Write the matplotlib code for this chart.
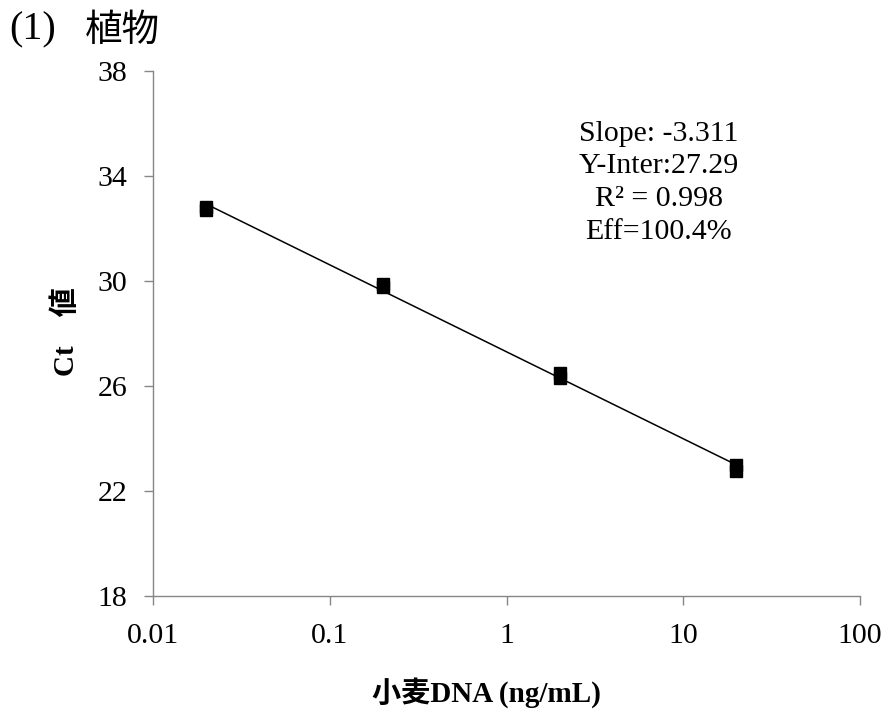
import numpy as np
import matplotlib.pyplot as plt

plt.rcParams['font.family'] = ['Liberation Serif', 'Noto Sans CJK JP']
plt.rcParams['mathtext.fontset'] = 'stix'

# DNA concentration (ng/mL) and Ct replicates
conc = [0.02, 0.02, 0.2, 0.2, 2, 2, 20, 20]
ct = [32.72, 32.82, 29.76, 29.87, 26.29, 26.51, 22.75, 22.98]

x_ticks = [0.01, 0.1, 1, 10, 100]
x_tick_labels = ['0.01', '0.1', '1', '10', '100']
y_ticks = [18, 22, 26, 30, 34, 38]

stats_text = 'Slope: -3.311\nY-Inter:27.29\nR² = 0.998\nEff=100.4%'

fig = plt.figure(figsize=(8.86, 7.18), dpi=100)
ax = fig.add_axes([0.1727, 0.1699, 0.7980, 0.7312])

# linear fit of Ct vs log10(conc)
logc = np.log10(conc)
slope, inter = np.polyfit(logc, ct, 1)
xs = np.array([min(conc), max(conc)])
ax.plot(xs, slope * np.log10(xs) + inter, color='black', lw=1.1, zorder=2)
ax.plot(conc, ct, 's', color='black', ms=8.6, zorder=3)

ax.set_xscale('log')
ax.set_xlim(0.01, 100)
ax.set_ylim(18, 38)
ax.set_xticks(x_ticks)
ax.set_xticklabels(x_tick_labels)
ax.set_yticks(y_ticks)
ax.minorticks_off()

for side in ['top', 'right']:
    ax.spines[side].set_visible(False)
for side in ['left', 'bottom']:
    ax.spines[side].set_color('#868686')
    ax.spines[side].set_linewidth(1.0)
ax.tick_params(axis='both', direction='out', length=6.5, width=1.0,
               color='#868686', labelsize=21.5)
ax.tick_params(axis='y', pad=12)
ax.tick_params(axis='x', pad=13)

ax.text(0.715, 0.905, stats_text, transform=ax.transAxes, ha='center',
        va='top', fontsize=21.5, linespacing=1.33)

fig.text(0.549, 0.035, '小麦DNA (ng/mL)', ha='center', va='center',
         fontsize=21, fontweight='bold')
fig.text(0.0745, 0.5376, 'Ct\u3000値', ha='center', va='center', rotation=90,
         fontsize=21, fontweight='bold')

fig.text(0.010, 0.958, '(1)', ha='left', va='center', fontsize=29)
fig.text(0.096, 0.958, '植物', ha='left', va='center', fontsize=27,
         family=['Noto Sans CJK JP'])

fig.savefig('out.png', dpi=100)
